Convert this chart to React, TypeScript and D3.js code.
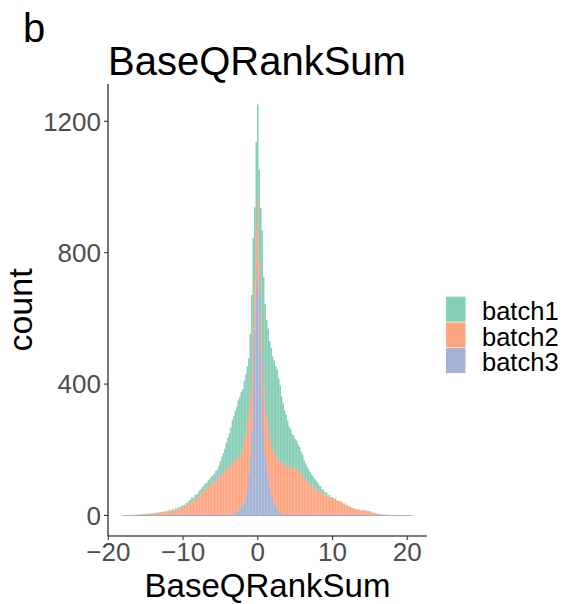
import React from 'react';
import * as d3 from 'd3';

// Histogram bins: centre of the first bin and the bin width
const BIN_START = -18;
const BIN_WIDTH = 0.2;

// Counts per bin for each batch (bins centred at -18.0, -17.8, ... 20.6)
const batch1Counts = [
  0, 0, 0, 1, 0, 0, 1, 0, 1, 0,
  1, 0, 1, 0, 1, 1, 0, 2, 1, 1,
  1, 1, 2, 1, 1, 2, 1, 1, 2, 2,
  2, 2, 3, 2, 3, 3, 3, 3, 5, 4,
  4, 6, 5, 8, 7, 9, 11, 9, 12, 13,
  13, 12, 17, 15, 18, 15, 19, 17, 22, 19,
  21, 27, 24, 30, 31, 47, 49, 63, 64, 85,
  88, 106, 110, 135, 134, 156, 158, 178, 176, 188,
  182, 176, 188, 168, 165, 185, 240, 275, 225, 270,
  289, 282, 316, 398, 336, 308, 296, 290, 286, 294,
  282, 283, 266, 270, 244, 234, 198, 187, 162, 158,
  141, 119, 116, 99, 100, 86, 90, 76, 78, 64,
  66, 51, 50, 41, 43, 33, 35, 28, 30, 24,
  22, 21, 16, 14, 10, 9, 8, 5, 4, 3,
  2, 2, 2, 1, 1, 1, 1, 1, 1, 1,
  1, 1, 1, 1, 1, 1, 0, 1, 0, 1,
  1, 1, 0, 1, 0, 1, 1, 0, 1, 1,
  0, 1, 0, 1, 0, 1, 0, 1, 0, 0,
  0, 1, 0, 0, 0, 0, 0, 0, 0, 0,
  0, 0, 0, 0,
];

const batch2Counts = [
  1, 0, 1, 0, 1, 1, 0, 2, 1, 2,
  2, 3, 2, 4, 3, 4, 5, 3, 5, 6,
  6, 7, 6, 8, 9, 8, 10, 11, 10, 12,
  13, 15, 12, 17, 14, 19, 18, 22, 19, 25,
  27, 26, 32, 31, 38, 39, 44, 43, 51, 50,
  55, 64, 63, 72, 74, 82, 81, 90, 89, 99,
  101, 100, 112, 109, 120, 118, 130, 127, 139, 137,
  149, 144, 157, 152, 163, 155, 162, 156, 163, 160,
  172, 192, 188, 208, 193, 198, 171, 150, 143, 162,
  207, 102, 130, 100, 130, 146, 148, 164, 160, 154,
  154, 152, 161, 154, 160, 153, 159, 152, 157, 149,
  148, 152, 147, 150, 143, 147, 138, 141, 131, 130,
  119, 118, 109, 108, 98, 99, 90, 91, 82, 83,
  79, 71, 73, 66, 68, 61, 63, 57, 58, 53,
  54, 49, 50, 44, 45, 41, 42, 36, 36, 31,
  31, 26, 26, 22, 22, 19, 20, 17, 18, 15,
  16, 14, 16, 13, 14, 11, 11, 8, 8, 5,
  5, 4, 5, 3, 3, 2, 2, 1, 1, 1,
  1, 0, 1, 0, 0, 1, 0, 0, 0, 0,
  0, 0, 0, 0,
];

// batch3 is empty outside the centre; its list starts at the bin centred on -4.0
const batch3Start = -4;
const batch3Counts = [
  0, 0, 1, 3, 5, 8, 11, 16, 22, 28,
  31, 42, 55, 78, 120, 170, 260, 420, 570, 705,
  755, 668, 490, 370, 260, 190, 150, 115, 85, 62,
  48, 37, 26, 20, 13, 9, 5, 3, 1, 0,
];

const seriesNames = ['batch1', 'batch2', 'batch3'];
const seriesColors = ['#66C2A5', '#FC8D62', '#8DA0CB'];
const xTicks = [-20, -10, 0, 10, 20];
const yTicks = [0, 400, 800, 1200];

const FONT = '"Liberation Sans", Arial, Helvetica, sans-serif';
const W = 574;
const H = 604;
const panel = { left: 108, right: 427, top: 84, bottom: 536 };

type Row = { x0: number; x1: number; batch1: number; batch2: number; batch3: number };

const rows: Row[] = batch1Counts.map((b1, i) => {
  const centre = BIN_START + i * BIN_WIDTH;
  const j = Math.round((centre - batch3Start) / BIN_WIDTH);
  const b3 = j >= 0 && j < batch3Counts.length ? batch3Counts[j] : 0;
  return {
    x0: centre - BIN_WIDTH / 2,
    x1: centre + BIN_WIDTH / 2,
    batch1: b1,
    batch2: batch2Counts[i],
    batch3: b3,
  };
});

const fmt = (v: number) => (v < 0 ? '\u2212' + Math.abs(v) : String(v));

export default function App() {
  const dataMin = rows[0].x0;
  const dataMax = rows[rows.length - 1].x1;
  const xPad = (dataMax - dataMin) * 0.05;
  const x = d3.scaleLinear().domain([dataMin - xPad, dataMax + xPad]).range([panel.left, panel.right]);

  // stack: batch3 at the bottom, batch1 on top
  const stack = d3.stack<Row>().keys(['batch3', 'batch2', 'batch1']);
  const layers = stack(rows);
  const yMaxData = d3.max(rows, (r) => r.batch1 + r.batch2 + r.batch3) ?? 0;
  const yPad = yMaxData * 0.05;
  const y = d3.scaleLinear().domain([-yPad, yMaxData + yPad]).range([panel.bottom, panel.top]);

  const colorOf = (key: string) => seriesColors[seriesNames.indexOf(key)];

  return (
    <svg width={W} height={H} style={{ position: 'absolute', left: 0, top: 0, background: '#fff' }} fontFamily={FONT}>
      <rect x={0} y={0} width={W} height={H} fill="#fff" />
      <text x={23} y={42} fontSize={40} fill="#000">b</text>
      <text x={panel.left} y={75} fontSize={40} fill="#000">BaseQRankSum</text>

      {layers.map((layer) => (
        <g key={layer.key} fill={colorOf(layer.key)} fillOpacity={0.8}>
          {layer.map((d, i) => {
            const h = y(d[0]) - y(d[1]);
            if (h <= 0) return null;
            return (
              <rect
                key={i}
                x={x(d.data.x0)}
                width={x(d.data.x1) - x(d.data.x0)}
                y={y(d[1])}
                height={h}
              />
            );
          })}
        </g>
      ))}
      {/* empty bins of the bottom layer show as a line along zero */}
      <line
        x1={x(dataMin)}
        x2={x(dataMax)}
        y1={y(0)}
        y2={y(0)}
        stroke={colorOf('batch3')}
        strokeOpacity={0.8}
        strokeWidth={1.1}
      />

      {/* axes */}
      <line x1={panel.left} x2={panel.left} y1={panel.top} y2={panel.bottom} stroke="#000" strokeWidth={1.1} />
      <line x1={panel.left} x2={panel.right} y1={panel.bottom} y2={panel.bottom} stroke="#000" strokeWidth={1.1} />
      {yTicks.map((t) => (
        <g key={t}>
          <line x1={panel.left - 4} x2={panel.left} y1={y(t)} y2={y(t)} stroke="#333" strokeWidth={1.1} />
          <text x={panel.left - 7} y={y(t) + 9.3} fontSize={26} fill="#4D4D4D" textAnchor="end">
            {fmt(t)}
          </text>
        </g>
      ))}
      {xTicks.map((t) => (
        <g key={t}>
          <line x1={x(t)} x2={x(t)} y1={panel.bottom} y2={panel.bottom + 4} stroke="#333" strokeWidth={1.1} />
          <text x={x(t)} y={561} fontSize={26} fill="#4D4D4D" textAnchor="middle">
            {fmt(t)}
          </text>
        </g>
      ))}
      <text
        x={(panel.left + panel.right) / 2}
        y={597}
        fontSize={33}
        fill="#000"
        textAnchor="middle"
      >
        BaseQRankSum
      </text>
      <text
        transform={`translate(32, ${(panel.top + panel.bottom) / 2}) rotate(-90)`}
        fontSize={34}
        fill="#000"
        textAnchor="middle"
      >
        count
      </text>

      {/* legend */}
      {seriesNames.map((name, k) => (
        <g key={name}>
          <rect
            x={446}
            y={296.7 + k * 25.7}
            width={19.5}
            height={25}
            fill={seriesColors[k]}
            fillOpacity={0.8}
          />
          <text x={482} y={320 + k * 25.7} fontSize={25.5} fill="#000">
            {name}
          </text>
        </g>
      ))}
    </svg>
  );
}
